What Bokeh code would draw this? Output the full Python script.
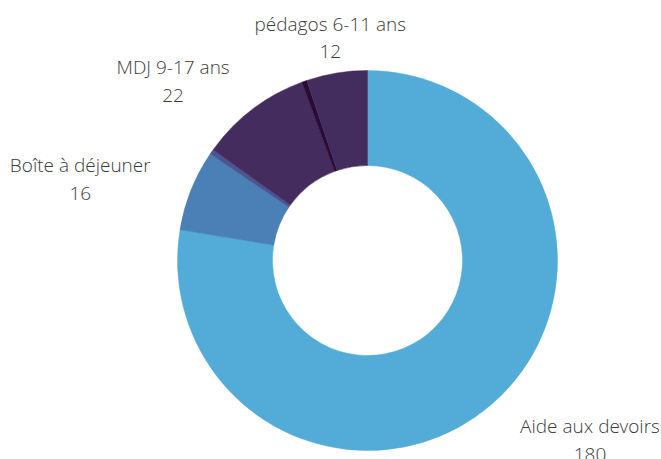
import numpy as np
from bokeh.plotting import figure
from bokeh.models import Range1d, ColumnDataSource
from bokeh.core.properties import value
from bokeh.embed import file_html
from bokeh.resources import INLINE

# data (clockwise from 12 o'clock)
categories = ["Aide aux devoirs", "Boîte à déjeuner", "", "MDJ 9-17 ans", "", "pédagos 6-11 ans"]
values = [180, 16, 1, 22, 1, 12]
colors = ["#53ACD8", "#4B80B7", "#4A5592", "#442C5E", "#2B0B36", "#432D5E"]

W, H = 661, 459
CX, CY = 367, 199
R_OUT, R_IN = 190, 95
R_LABEL = 230
CHAR_W = 9.2

vals = np.array(values, dtype=float)
frac = vals / vals.sum()
cum = np.concatenate([[0], np.cumsum(frac)]) * 2 * np.pi
phi0, phi1 = cum[:-1], cum[1:]
start = np.pi / 2 - phi0
end = np.pi / 2 - phi1

src = ColumnDataSource(dict(start=start, end=end, color=colors))

p = figure(width=W, height=H, output_backend="svg", toolbar_location=None,
           x_range=Range1d(0, W), y_range=Range1d(0, H), min_border=0,
           background_fill_color="white", border_fill_color="white")
p.axis.visible = False
p.grid.visible = False
p.outline_line_color = None

p.annular_wedge(x=CX, y=CY, inner_radius=R_IN, outer_radius=R_OUT,
                start_angle="start", end_angle="end", direction="clock",
                fill_color="color", line_color="color", line_width=0.5, source=src)

lx, ly, lt = [], [], []
for name, v, a0, a1 in zip(categories, values, phi0, phi1):
    if not name:
        continue
    m = (a0 + a1) / 2
    s, c = np.sin(m), np.cos(m)
    x = CX + R_LABEL * s
    y = CY + R_LABEL * c - 4
    if abs(s) > 0.5:
        x += np.sign(s) * len(name) * CHAR_W / 2
    lx.append(x)
    ly.append(y)
    lt.append(f"{name}\n{v}")

p.text(x=lx, y=ly, text=lt, text_align="center", text_baseline="middle",
       text_font=value("Open Sans Light"), text_font_size="19px", text_color="#3a3a3a",
       text_line_height=1.07)

open("out.html", "w").write(file_html(p, INLINE))
